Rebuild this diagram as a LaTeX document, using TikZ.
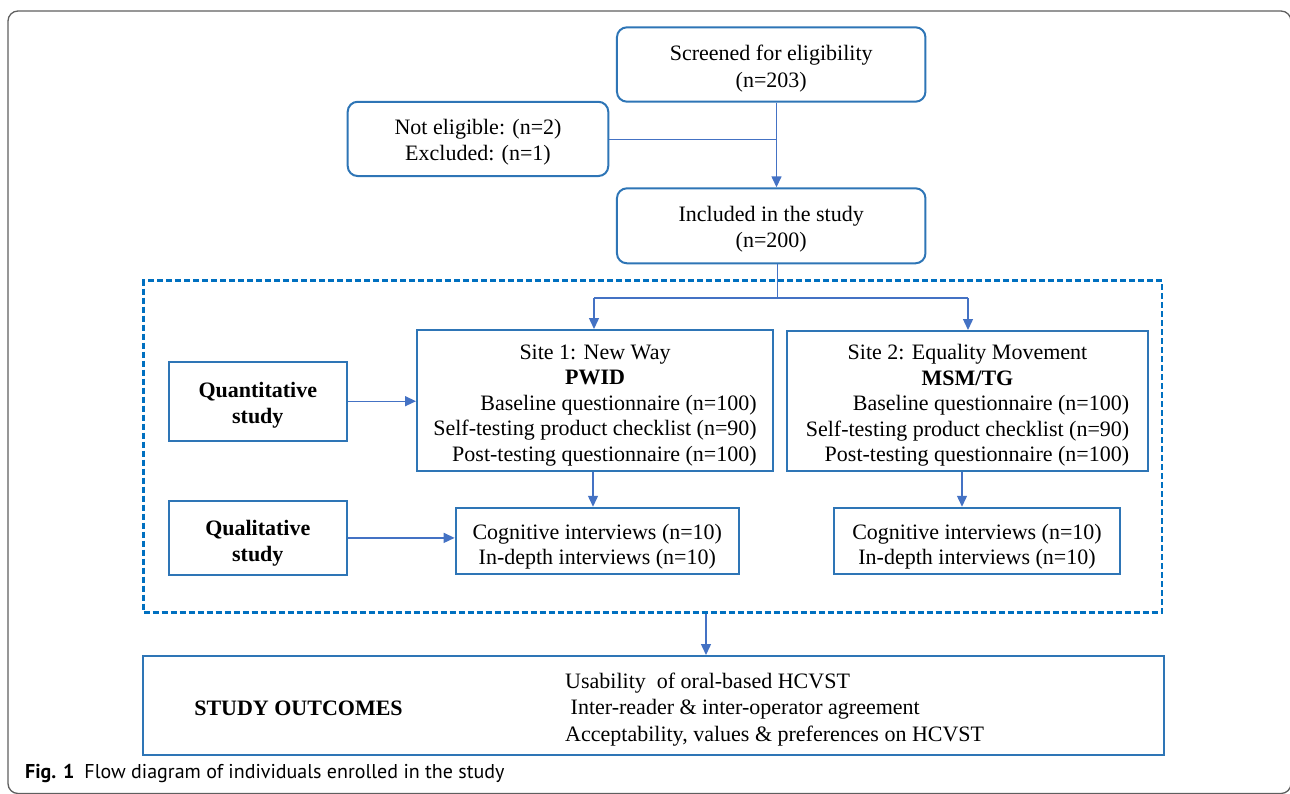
\documentclass[tikz,border=0pt]{standalone}
\usepackage{fontspec}
\setmainfont{Liberation Serif}
\newfontfamily\capfont{PT Sans}
\usetikzlibrary{arrows.meta}
\definecolor{boxc}{RGB}{46,117,182}
\definecolor{connc}{RGB}{68,114,196}
\definecolor{dashc}{RGB}{0,112,192}
\definecolor{framec}{RGB}{95,95,95}
\newcommand\tstr[1]{\rule{0pt}{#1}}
\begin{document}
\begin{tikzpicture}[x=1pt,y=-1pt,
 txt/.style={font=\fontsize{22}{25.5}\selectfont, align=center, inner sep=0pt},
 rbox/.style={txt, draw=boxc, line width=2pt, rounded corners=10pt},
 sbox/.style={txt, draw=boxc, line width=2pt},
 conn/.style={draw=connc, line width=1.4pt},
 arr/.style={conn, -{Triangle[length=11pt,width=10pt]}},
 grpbox/.style={draw=dashc, line width=2.5pt, dash pattern=on 6pt off 3pt, inner sep=0pt}]
\useasboundingbox (0,0) rectangle (1290,793);
\draw[framec, line width=1.3pt, rounded corners=10pt] (8,11) rectangle (1291,793.5);

% top boxes
\node[rbox, font=\fontsize{22}{26.5}\selectfont, minimum width=308.5pt, minimum height=74.4pt] (scr) at (771.2,64.5) {\tstr{24pt}Screened for eligibility\\(n=203)};
\node[rbox, minimum width=260.6pt, minimum height=74.3pt] (nel) at (478,138.9) {\tstr{22pt}Not eligible: (n=2)\\Excluded: (n=1)};
\node[rbox, font=\fontsize{22}{26}\selectfont, minimum width=308.5pt, minimum height=75pt] (inc) at (771.2,225.8) {\tstr{22pt}Included in the study\\(n=200)};

% dashed group
\node[grpbox, minimum width=1018.3pt, minimum height=331.6pt] (grp) at (652.85,446.5) {};

% left labels
\node[sbox, minimum width=178.4pt, minimum height=79pt] (quant) at (257.8,401.2) {\tstr{23pt}\textbf{Quantitative}\\\textbf{study}};
\node[sbox, minimum width=178.4pt, minimum height=74.3pt] (qual) at (257.8,537.9) {\tstr{26pt}\textbf{Qualitative}\\\textbf{study}};

% sites
\node[sbox, minimum width=356pt, minimum height=141pt] (s1) at (595,400.5) {\begin{tabular}{@{}r@{}}\multicolumn{1}{@{}c@{}}{\tstr{27pt}Site 1: New Way}\\ \multicolumn{1}{@{}c@{}}{\textbf{PWID}}\\ Baseline questionnaire (n=100)\\ Self-testing product checklist (n=90)\\ Post-testing questionnaire (n=100)\end{tabular}};
\node[sbox, minimum width=361pt, minimum height=140pt] (s2) at (967.5,401) {\begin{tabular}{@{}r@{}}\multicolumn{1}{@{}c@{}}{\tstr{27pt}Site 2: Equality Movement}\\ \multicolumn{1}{@{}c@{}}{\textbf{MSM/TG}}\\ Baseline questionnaire (n=100)\\ Self-testing product checklist (n=90)\\ Post-testing questionnaire (n=100)\end{tabular}};

% interviews
\node[sbox, minimum width=283.3pt, minimum height=66.3pt] (c1) at (597.3,540.9) {\tstr{27pt}Cognitive interviews (n=10)\\In-depth interviews (n=10)};
\node[sbox, minimum width=286pt, minimum height=66.3pt] (c2) at (977,540.9) {\tstr{27pt}Cognitive interviews (n=10)\\In-depth interviews (n=10)};

% outcomes
\node[sbox, minimum width=1020.6pt, minimum height=99pt] (out) at (653.3,705.5) {};
\node[txt] (outl) at (298.5,708) {\textbf{STUDY OUTCOMES}};
\node[txt, font=\fontsize{22}{26.5}\selectfont, align=left, anchor=west] (outr) at (565,709.5) {Usability\ \ of oral-based HCVST\\\ Inter-reader \& inter-operator agreement\\Acceptability, values \& preferences on HCVST};

% caption
\node[anchor=base west, inner sep=0pt, font=\capfont\fontsize{20}{24}\selectfont] (cap) at (25,778) {\textbf{Fig. 1}\hspace{10pt}Flow diagram of individuals enrolled in the study};

% connectors
\coordinate (j1) at (776.5,139.3);
\draw[arr] (scr.south -| j1) -- (inc.north -| j1);
\draw[conn] (nel.east |- j1) -- (j1);
\coordinate (j2) at (777.5,298);
\coordinate (a1) at (594,298);
\coordinate (a2) at (968,298);
\draw[conn] (inc.south -| j2) -- (j2);
\draw[conn] (a1) -- (a2);
\draw[arr] (a1) -- (a1 |- s1.north);
\draw[arr] (a2) -- (a2 |- s2.north);
\draw[arr] (quant.east) -- (quant.east -| s1.west);
\draw[arr] (qual.east) -- (qual.east -| c1.west);
\coordinate (b1) at (593,0);
\coordinate (b2) at (962,0);
\draw[arr] (b1 |- s1.south) -- (b1 |- c1.north);
\draw[arr] (b2 |- s2.south) -- (b2 |- c2.north);
\coordinate (b3) at (706,0);
\draw[arr] (b3 |- grp.south) -- (b3 |- out.north);
\end{tikzpicture}
\end{document}
